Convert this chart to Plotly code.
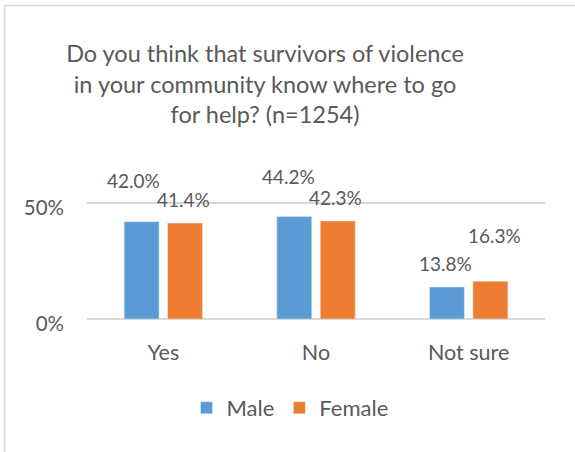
import plotly.graph_objects as go

categories = ["Yes", "No", "Not sure"]
male = [0.420, 0.442, 0.138]
female = [0.414, 0.423, 0.163]
series_names = ["Male", "Female"]
title_text = "Do you think that survivors of violence<br>in your community know where to go<br>for help? (n=1254)"

# label placement offsets (px) relative to each bar top centre
male_dx = [-8, -6, -1]
male_dy = [41, 40, 24]
female_dx = [-2, -2, 4]
female_dy = [24, 24, 46]

BLUE = "#5B9BD5"
ORANGE = "#ED7D31"
TXT = "#595959"
FONT = "Lato, 'Open Sans', sans-serif"

fig = go.Figure()
fig.add_bar(x=categories, y=male, name=series_names[0], marker_color=BLUE)
fig.add_bar(x=categories, y=female, name=series_names[1], marker_color=ORANGE)

slot = 43.5
for i, c in enumerate(categories):
    fig.add_annotation(x=c, y=male[i], xref="x", yref="y", text=f"{male[i]*100:.1f}%",
                       showarrow=False, xshift=-slot/2 + male_dx[i], yshift=male_dy[i],
                       font=dict(size=19, color=TXT, family=FONT))
    fig.add_annotation(x=c, y=female[i], xref="x", yref="y", text=f"{female[i]*100:.1f}%",
                       showarrow=False, xshift=slot/2 + female_dx[i], yshift=female_dy[i],
                       font=dict(size=19, color=TXT, family=FONT))

W, H = 575, 452
L, R, T, B = 87, 30, 180, 133
pw, ph = W - L - R, H - T - B

def px2paper_x(px):
    return (px - L) / pw

def px2paper_y(py):
    return (H - B - py) / ph

fig.add_shape(type="line", xref="paper", yref="paper",
              x0=px2paper_x(4), x1=px2paper_x(580), y0=px2paper_y(5.5), y1=px2paper_y(5.5),
              line=dict(color="#d9d9d9", width=1.5))
fig.add_shape(type="line", xref="paper", yref="paper",
              x0=px2paper_x(4.5), x1=px2paper_x(4.5), y0=px2paper_y(5), y1=px2paper_y(460),
              line=dict(color="#d9d9d9", width=1.5))

fig.update_layout(
    width=W, height=H,
    margin=dict(l=L, r=R, t=T, b=B),
    paper_bgcolor="white", plot_bgcolor="white",
    barmode="group", bargap=0.431, bargroupgap=0.195,
    title=dict(text=title_text, x=px2paper_x(265), xref="paper", xanchor="center",
               y=1 - 62 / H, yref="container", yanchor="top",
               font=dict(size=23.5, color=TXT, family=FONT)),
    font=dict(family=FONT, color=TXT, size=16),
    showlegend=True,
    legend=dict(orientation="h", x=px2paper_x(290), xanchor="center",
                y=px2paper_y(408), yanchor="middle", yref="paper",
                font=dict(size=22, color=TXT, family=FONT)),
)
fig.update_yaxes(range=[0, 0.6], tickvals=[0, 0.5], ticktext=["0%", "50%"],
                 showgrid=True, gridcolor="#d9d9d9", gridwidth=1.5,
                 zeroline=True, zerolinecolor="#d9d9d9", zerolinewidth=1.5,
                 showline=False, ticks="", tickfont=dict(size=20.5, color=TXT),
                 ticklabelstandoff=22, ticklabelshift=5)
fig.update_xaxes(showline=False, ticks="", tickfont=dict(size=21.5, color=TXT),
                 ticklabelstandoff=18)

fig.write_html("out.html")
